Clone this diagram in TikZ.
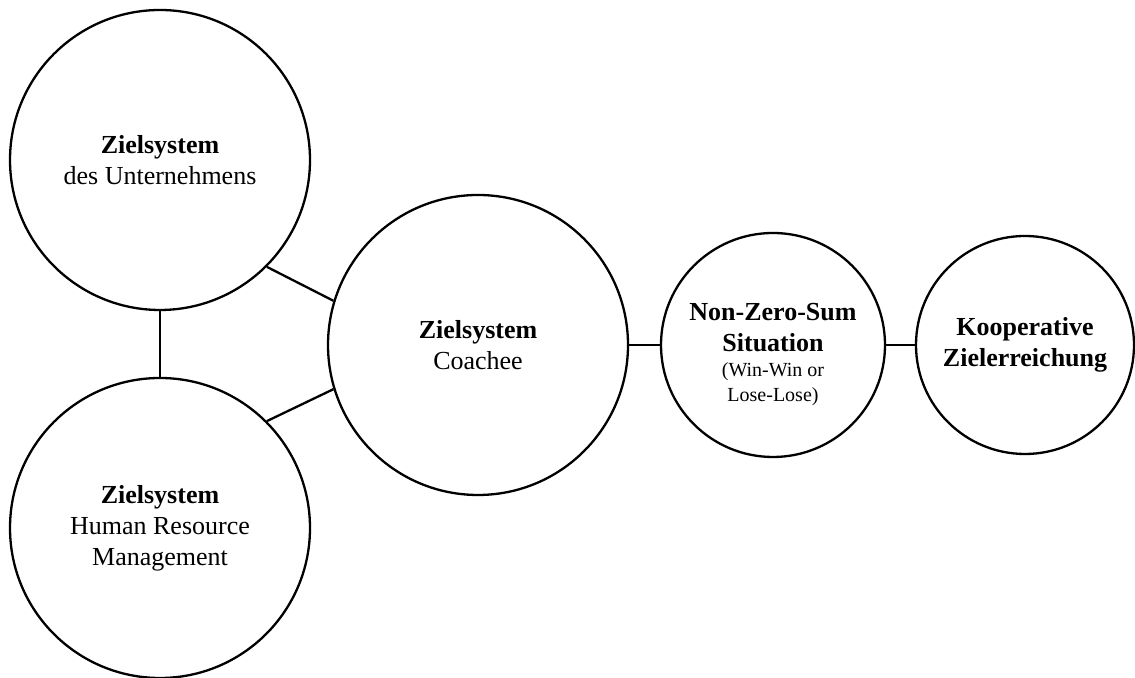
\documentclass[tikz,border=0pt]{standalone}
\usepackage{fontspec}
\setmainfont{Liberation Serif}
\usetikzlibrary{calc}

\begin{document}
\begin{tikzpicture}[x=0.5pt, y=0.5pt,
    zielkreis/.style={circle, draw=black, line width=1.15pt, inner sep=0pt, align=center, font=\fontsize{13}{15.5}\selectfont},
    verbindung/.style={draw=black, line width=1.15pt}]
    \useasboundingbox (0,0) rectangle (1135,678);

    % Zielsysteme links und Mitte
    \node[zielkreis, minimum size=150pt] (unternehmen) at (160,518) {\textbf{Zielsystem}\\des Unternehmens};
    \node[zielkreis, minimum size=150pt] (hrm) at (160,150) {\textbf{Zielsystem}\\Human Resource\\Management};
    \node[zielkreis, minimum size=150pt] (coachee) at (478,333) {\textbf{Zielsystem}\\Coachee};

    % Situation und Ergebnis
    \node[zielkreis, minimum size=112pt] (nzs) at (773,333) {\rule{0pt}{18pt}\textbf{Non-Zero-Sum}\\\textbf{Situation}\\[-3pt]{\fontsize{10}{12.5}\selectfont (Win-Win or}\\[-3pt]{\fontsize{10}{12.5}\selectfont Lose-Lose)}};
    \node[zielkreis, minimum size=109pt] (kooperation) at (1025,333) {\textbf{Kooperative}\\\textbf{Zielerreichung}};

    % Verbindungen
    \draw[verbindung] (unternehmen.south) -- (hrm.north);
    \draw[verbindung] (unternehmen.south east) -- (coachee.163);
    \draw[verbindung] (hrm.north east) -- (coachee.197);
    \draw[verbindung] (coachee.east) -- (nzs.west);
    \draw[verbindung] (nzs.east) -- (kooperation.west);
\end{tikzpicture}
\end{document}
